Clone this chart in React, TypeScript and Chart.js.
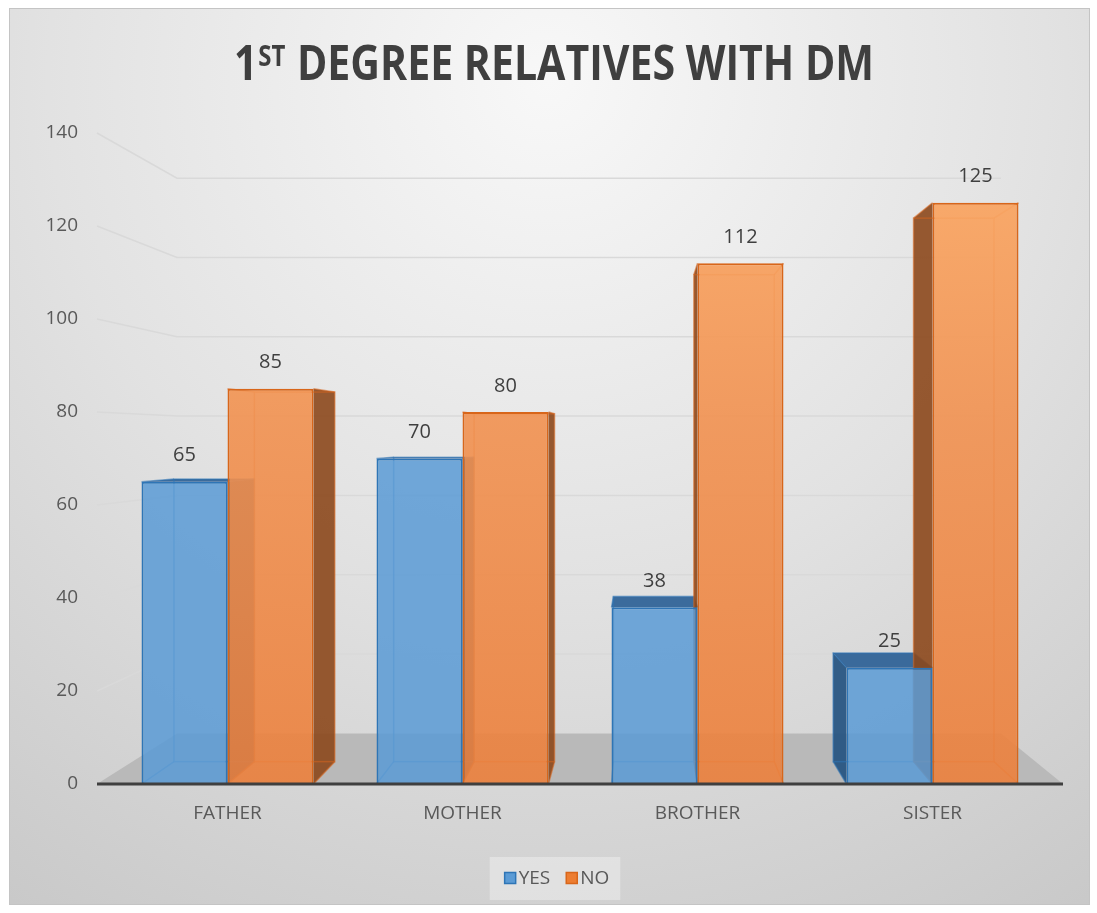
import React, { useEffect, useRef } from "react";
import { Chart, registerables } from "chart.js";

Chart.register(...registerables);

// ---------- data ----------
const categories = ["FATHER", "MOTHER", "BROTHER", "SISTER"];
const yesValues = [65, 70, 38, 25];
const noValues = [85, 80, 112, 125];
const seriesNames = ["YES", "NO"];
const yTickValues = [0, 20, 40, 60, 80, 100, 120, 140];
const titleMain = "1";
const titleSup = "ST";
const titleRest = " DEGREE RELATIVES WITH DM";

// ---------- style ----------
const FONT = '"Open Sans", "Noto Sans", "DejaVu Sans", sans-serif';
const TEXT = "#595959";
const DARK = "#3f3f3f";
const CANVAS_W = 1097;
const CANVAS_H = 913;
const view = { vx: 641, vy: 440, kWall: 0.147, kBar: 0.065, extend: 13 };
const seriesFill = ["#5b9bd5", "#ed7d31"];
const seriesBorder = ["#2e75b6", "#d8661a"];
const sideColors = ["rgba(36,82,128,0.92)", "rgba(140,72,28,0.9)"];
const topColors = ["rgba(50,100,152,0.95)", "rgba(196,98,38,0.95)"];
const edgeColors = ["rgba(46,117,182,0.55)", "rgba(214,100,30,0.55)"];

const proj = (x: number, y: number, k: number): [number, number] => [
  x + (view.vx - x) * k,
  y + (view.vy - y) * k,
];

const decorPlugin = {
  id: "decor3d",
  beforeDraw(chart: any) {
    const ctx = chart.ctx;
    ctx.save();
    ctx.fillStyle = "#ffffff";
    ctx.fillRect(0, 0, chart.width, chart.height);
    const fx = 9, fy = 8, fw = 1081, fh = 897;
    const g = ctx.createRadialGradient(548, 80, 0, 548, 80, 1000);
    g.addColorStop(0, "#f8f8f8");
    g.addColorStop(0.5, "#e2e2e2");
    g.addColorStop(1, "#c8c8c8");
    ctx.fillStyle = g;
    ctx.fillRect(fx, fy, fw, fh);
    ctx.strokeStyle = "#c4c4c4";
    ctx.lineWidth = 1;
    ctx.strokeRect(fx + 0.5, fy + 0.5, fw - 1, fh - 1);
    ctx.restore();
  },
  beforeDatasetsDraw(chart: any) {
    const { ctx, chartArea } = chart;
    const y = chart.scales.y;
    const L = chartArea.left - view.extend;
    const R = chartArea.right + view.extend;
    ctx.save();
    // back wall gridlines
    ctx.strokeStyle = "#d9d9d9";
    ctx.lineWidth = 1.5;
    y.ticks.forEach((t: any) => {
      if (t.value === 0) return;
      const py = y.getPixelForValue(t.value);
      const [bx1, by] = proj(L, py, view.kWall);
      const [bx2] = proj(R, py, view.kWall);
      ctx.beginPath();
      ctx.moveTo(L, py);
      ctx.lineTo(bx1, by);
      ctx.lineTo(bx2, by);
      ctx.stroke();
    });
    // floor
    const base = y.getPixelForValue(0);
    const [f1x, f1y] = proj(L, base, view.kWall);
    const [f2x, f2y] = proj(R, base, view.kWall);
    ctx.fillStyle = "#b9b9b9";
    ctx.beginPath();
    ctx.moveTo(L, base);
    ctx.lineTo(f1x, f1y);
    ctx.lineTo(f2x, f2y);
    ctx.lineTo(R, base);
    ctx.closePath();
    ctx.fill();
    // 3D bar bodies
    chart.data.datasets.forEach((_ds: any, i: number) => {
      const meta = chart.getDatasetMeta(i);
      meta.data.forEach((el: any) => {
        const p = el.getProps(["x", "y", "base", "width"], true);
        const l = p.x - p.width / 2, r = p.x + p.width / 2, t = p.y, b = p.base;
        const [bl, bt] = proj(l, t, view.kBar);
        const [br] = proj(r, t, view.kBar);
        const [, bb] = proj(l, b, view.kBar);
        ctx.fillStyle = sideColors[i];
        if (br > r) {
          ctx.beginPath();
          ctx.moveTo(r, t); ctx.lineTo(br, bt); ctx.lineTo(br, bb); ctx.lineTo(r, b);
          ctx.closePath(); ctx.fill();
        }
        if (bl < l) {
          ctx.beginPath();
          ctx.moveTo(l, t); ctx.lineTo(bl, bt); ctx.lineTo(bl, bb); ctx.lineTo(l, b);
          ctx.closePath(); ctx.fill();
        }
        if (bt < t) {
          ctx.fillStyle = topColors[i];
          ctx.beginPath();
          ctx.moveTo(l, t); ctx.lineTo(r, t); ctx.lineTo(br, bt); ctx.lineTo(bl, bt);
          ctx.closePath(); ctx.fill();
        }
        ctx.strokeStyle = edgeColors[i];
        ctx.lineWidth = 1.5;
        ctx.strokeRect(bl, bt, br - bl, bb - bt);
        ctx.beginPath();
        ctx.moveTo(l, t); ctx.lineTo(bl, bt);
        ctx.moveTo(r, t); ctx.lineTo(br, bt);
        ctx.moveTo(l, b); ctx.lineTo(bl, bb);
        ctx.moveTo(r, b); ctx.lineTo(br, bb);
        ctx.stroke();
      });
    });
    ctx.restore();
  },
  afterDatasetsDraw(chart: any) {
    const { ctx, chartArea } = chart;
    const y = chart.scales.y;
    const base = y.getPixelForValue(0);
    ctx.save();
    ctx.strokeStyle = DARK;
    ctx.lineWidth = 3;
    ctx.beginPath();
    ctx.moveTo(chartArea.left - view.extend, base);
    ctx.lineTo(chartArea.right + view.extend, base);
    ctx.stroke();
    // value labels
    ctx.fillStyle = DARK;
    ctx.font = `20px ${FONT}`;
    ctx.textAlign = "center";
    ctx.textBaseline = "middle";
    chart.data.datasets.forEach((ds: any, i: number) => {
      const meta = chart.getDatasetMeta(i);
      meta.data.forEach((el: any, j: number) => {
        const p = el.getProps(["x", "y"], true);
        ctx.fillText(String(ds.data[j]), p.x, p.y - 26);
      });
    });
    ctx.restore();
  },
  afterDraw(chart: any) {
    const ctx = chart.ctx;
    ctx.save();
    // title with superscript
    const bigFont = `bold 48px ${FONT}`;
    const supFont = `bold 28px ${FONT}`;
    ctx.font = bigFont;
    const w1 = ctx.measureText(titleMain).width;
    const wR = ctx.measureText(titleRest).width;
    ctx.font = supFont;
    const wS = ctx.measureText(titleSup).width + 2;
    const total = w1 + wS + wR;
    const targetW = 640;
    const sx = targetW / total;
    ctx.translate(554 - targetW / 2, 0);
    ctx.scale(sx, 1);
    ctx.fillStyle = DARK;
    ctx.textAlign = "left";
    ctx.textBaseline = "alphabetic";
    ctx.font = bigFont;
    ctx.fillText(titleMain, 0, 80);
    ctx.font = supFont;
    ctx.fillText(titleSup, w1 + 1, 66);
    ctx.font = bigFont;
    ctx.fillText(titleRest, w1 + wS, 80);
    ctx.restore();

    // legend
    ctx.save();
    ctx.font = `19px ${FONT}`;
    const sq = 11, gapT = 3, gapI = 16;
    const names = chart.data.datasets.map((d: any) => d.label);
    const widths = names.map((n: string) => ctx.measureText(n).width);
    let totalL = 0;
    widths.forEach((w: number, i: number) => {
      totalL += sq + gapT + w + (i < widths.length - 1 ? gapI : 0);
    });
    const cx = 557, cy = 878;
    let x = cx - totalL / 2;
    ctx.fillStyle = "rgba(236,236,236,0.55)";
    ctx.fillRect(x - 15, 857, totalL + 26, 43);
    ctx.textBaseline = "middle";
    ctx.textAlign = "left";
    names.forEach((n: string, i: number) => {
      ctx.fillStyle = seriesFill[i];
      ctx.fillRect(x, cy - sq / 2, sq, sq);
      ctx.strokeStyle = seriesBorder[i];
      ctx.lineWidth = 1.5;
      ctx.strokeRect(x, cy - sq / 2, sq, sq);
      x += sq + gapT;
      ctx.fillStyle = TEXT;
      ctx.fillText(n, x, cy + 1);
      x += widths[i] + gapI;
    });
    ctx.restore();
  },
};

export default function App() {
  const ref = useRef<HTMLCanvasElement | null>(null);

  useEffect(() => {
    if (!ref.current) return;
    const orangeFill = (c: any) => {
      const ch = c.chart;
      const ca = ch.chartArea;
      if (!ca) return seriesFill[1];
      const g = ch.ctx.createLinearGradient(0, ca.top, 0, ca.bottom);
      g.addColorStop(0, "rgba(252,170,102,0.94)");
      g.addColorStop(0.45, "rgba(241,145,80,0.9)");
      g.addColorStop(1, "rgba(236,128,60,0.9)");
      return g;
    };
    const chart = new Chart(ref.current, {
      type: "bar",
      data: {
        labels: categories,
        datasets: [
          {
            label: seriesNames[0],
            data: yesValues,
            backgroundColor: "rgba(91,155,213,0.86)",
            borderColor: seriesBorder[0],
            borderWidth: 2,
            categoryPercentage: 0.732,
            barPercentage: 1,
          },
          {
            label: seriesNames[1],
            data: noValues,
            backgroundColor: orangeFill,
            borderColor: seriesBorder[1],
            borderWidth: 2,
            categoryPercentage: 0.732,
            barPercentage: 1,
          },
        ],
      },
      options: {
        responsive: false,
        animation: false,
        devicePixelRatio: 1,
        layout: { padding: { top: 133, left: 0, right: 47, bottom: 79 } },
        plugins: {
          legend: { display: false },
          title: { display: false },
          tooltip: { enabled: false },
        },
        scales: {
          x: {
            grid: { display: false, drawTicks: false },
            border: { display: false },
            ticks: { color: TEXT, font: { family: FONT, size: 19 }, padding: 18 },
            afterFit: (s: any) => { s.height = 50; },
          },
          y: {
            min: 0,
            max: 140,
            grid: { display: false, drawTicks: false },
            border: { display: false },
            ticks: { color: TEXT, font: { family: FONT, size: 19 }, padding: 32 },
            afterBuildTicks: (s: any) => { s.ticks = yTickValues.map((v) => ({ value: v })); },
            afterFit: (s: any) => { s.width = 110; },
          },
        },
      },
      plugins: [decorPlugin],
    } as any);
    return () => chart.destroy();
  }, []);

  return (
    <div style={{ position: "fixed", left: 0, top: 0, width: CANVAS_W, height: CANVAS_H }}>
      <canvas
        ref={ref}
        width={CANVAS_W}
        height={CANVAS_H}
        style={{ display: "block", width: CANVAS_W, height: CANVAS_H }}
      />
    </div>
  );
}
